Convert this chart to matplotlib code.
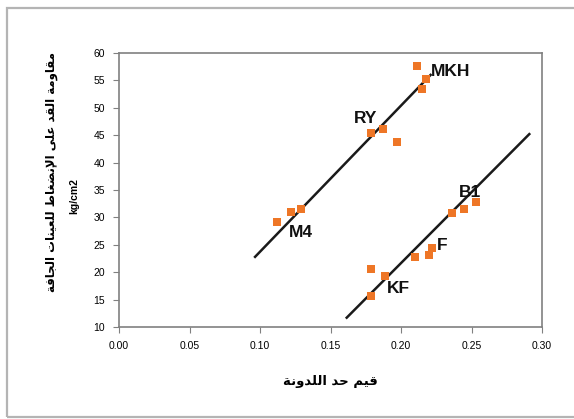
import matplotlib
matplotlib.use('Agg')
import matplotlib.pyplot as plt
from matplotlib.patches import Rectangle

# data
x_pts = [0.211, 0.218, 0.215, 0.179, 0.187, 0.197, 0.112, 0.122, 0.129,
         0.236, 0.245, 0.253, 0.210, 0.220, 0.222, 0.179, 0.189, 0.179]
y_pts = [57.6, 55.2, 53.5, 45.4, 46.2, 43.8, 29.2, 31.0, 31.6,
         30.8, 31.5, 32.8, 22.8, 23.2, 24.4, 20.5, 19.3, 15.7]

line1_x = [0.0965, 0.221]
line1_y = [22.8, 56.0]
line2_x = [0.1615, 0.291]
line2_y = [11.7, 45.2]

labels = ['MKH', 'RY', 'M4', 'B1', 'F', 'KF']
label_x = [0.2213, 0.1667, 0.1206, 0.241, 0.2255, 0.190]
label_y = [56.7, 48.0, 27.3, 34.5, 24.9, 17.0]

xticks = [0.00, 0.05, 0.10, 0.15, 0.20, 0.25, 0.30]
yticks = [10, 15, 20, 25, 30, 35, 40, 45, 50, 55, 60]

xlabel_ar = 'قيم حد اللدونة'
ylabel_ar = 'مقاومة القد على الإنضغاط للعينات الجافة'
ylabel_unit = 'kg/cm2'

# simple arabic shaping (matplotlib has no shaping / rtl)
FORMS = {
    'ء': [0xFE80], 'آ': [0xFE81, 0xFE82], 'أ': [0xFE83, 0xFE84],
    'ؤ': [0xFE85, 0xFE86], 'إ': [0xFE87, 0xFE88],
    'ئ': [0xFE89, 0xFE8A, 0xFE8B, 0xFE8C], 'ا': [0xFE8D, 0xFE8E],
    'ب': [0xFE8F, 0xFE90, 0xFE91, 0xFE92], 'ة': [0xFE93, 0xFE94],
    'ت': [0xFE95, 0xFE96, 0xFE97, 0xFE98], 'ث': [0xFE99, 0xFE9A, 0xFE9B, 0xFE9C],
    'ج': [0xFE9D, 0xFE9E, 0xFE9F, 0xFEA0], 'ح': [0xFEA1, 0xFEA2, 0xFEA3, 0xFEA4],
    'خ': [0xFEA5, 0xFEA6, 0xFEA7, 0xFEA8], 'د': [0xFEA9, 0xFEAA],
    'ذ': [0xFEAB, 0xFEAC], 'ر': [0xFEAD, 0xFEAE], 'ز': [0xFEAF, 0xFEB0],
    'س': [0xFEB1, 0xFEB2, 0xFEB3, 0xFEB4], 'ش': [0xFEB5, 0xFEB6, 0xFEB7, 0xFEB8],
    'ص': [0xFEB9, 0xFEBA, 0xFEBB, 0xFEBC], 'ض': [0xFEBD, 0xFEBE, 0xFEBF, 0xFEC0],
    'ط': [0xFEC1, 0xFEC2, 0xFEC3, 0xFEC4], 'ظ': [0xFEC5, 0xFEC6, 0xFEC7, 0xFEC8],
    'ع': [0xFEC9, 0xFECA, 0xFECB, 0xFECC], 'غ': [0xFECD, 0xFECE, 0xFECF, 0xFED0],
    'ف': [0xFED1, 0xFED2, 0xFED3, 0xFED4], 'ق': [0xFED5, 0xFED6, 0xFED7, 0xFED8],
    'ك': [0xFED9, 0xFEDA, 0xFEDB, 0xFEDC], 'ل': [0xFEDD, 0xFEDE, 0xFEDF, 0xFEE0],
    'م': [0xFEE1, 0xFEE2, 0xFEE3, 0xFEE4], 'ن': [0xFEE5, 0xFEE6, 0xFEE7, 0xFEE8],
    'ه': [0xFEE9, 0xFEEA, 0xFEEB, 0xFEEC], 'و': [0xFEED, 0xFEEE],
    'ى': [0xFEEF, 0xFEF0], 'ي': [0xFEF1, 0xFEF2, 0xFEF3, 0xFEF4],
}
LAMALEF = {'آ': [0xFEF5, 0xFEF6], 'أ': [0xFEF7, 0xFEF8],
           'إ': [0xFEF9, 0xFEFA], 'ا': [0xFEFB, 0xFEFC]}


def shape(text):
    out = []
    chars = list(text)
    i = 0
    while i < len(chars):
        c = chars[i]
        if c not in FORMS:
            out.append(c)
            i += 1
            continue
        prev = chars[i - 1] if i > 0 else ''
        joins_prev = prev in FORMS and len(FORMS[prev]) == 4
        nxt = chars[i + 1] if i + 1 < len(chars) else ''
        if c == 'ل' and nxt in LAMALEF:
            out.append(chr(LAMALEF[nxt][1 if joins_prev else 0]))
            i += 2
            continue
        f = FORMS[c]
        joins_next = len(f) == 4 and nxt in FORMS
        if joins_prev and joins_next:
            out.append(chr(f[3]))
        elif joins_prev:
            out.append(chr(f[1]))
        elif joins_next:
            out.append(chr(f[2]))
        else:
            out.append(chr(f[0]))
        i += 1
    return ''.join(out)[::-1]


plt.rcParams['font.family'] = ['Liberation Sans', 'DejaVu Sans']

fig = plt.figure(figsize=(5.74, 4.19), dpi=100)
fig.patches.append(Rectangle((7 / 574, 1 - 417 / 419), 1.0, (417 - 8) / 419,
                             transform=fig.transFigure, fill=False,
                             edgecolor='#b4b4b4', linewidth=1.6))
ax = fig.add_axes([119 / 574, 1 - 327 / 419, (542 - 119) / 574, (327 - 53) / 419])

ax.plot(line1_x, line1_y, color='#1a1a1a', linewidth=1.8)
ax.plot(line2_x, line2_y, color='#1a1a1a', linewidth=1.8)
ax.scatter(x_pts, y_pts, marker='s', s=32, color='#EE7626', zorder=3, linewidths=0)

for t, lx, ly in zip(labels, label_x, label_y):
    ax.text(lx, ly, t, fontsize=12.5, fontweight='bold', color='#111111',
            va='center', ha='left', zorder=4)

ax.set_xlim(0, 0.30)
ax.set_ylim(10, 60)
ax.set_xticks(xticks)
ax.set_xticklabels(['%.2f' % v for v in xticks])
ax.set_yticks(yticks)
for s in ax.spines.values():
    s.set_color('#808080')
    s.set_linewidth(1.2)
ax.tick_params(direction='out', length=4, color='#808080', labelsize=7.5, pad=6)

ax.set_xlabel(shape(xlabel_ar), fontsize=9.5, fontweight='bold',
              family=['DejaVu Sans'], labelpad=17)
fig.text(52 / 574, 1 - 172 / 419, shape(ylabel_ar), rotation=90,
         fontsize=8.5, fontweight='bold', family=['DejaVu Sans'],
         ha='center', va='center')
fig.text(74 / 574, 1 - 196 / 419, ylabel_unit, rotation=90,
         fontsize=7.5, fontweight='bold', ha='center', va='center')

fig.savefig('out.png', dpi=100)
